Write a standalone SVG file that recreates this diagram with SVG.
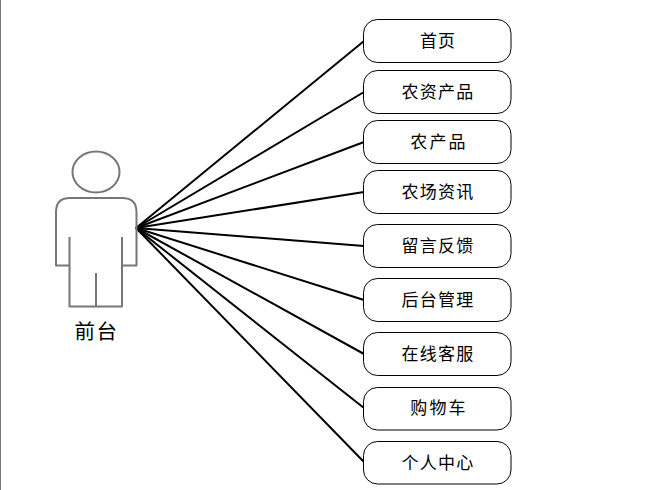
<svg xmlns="http://www.w3.org/2000/svg" width="668" height="490" viewBox="0 0 668 490">
<style>
.n{fill:#fff;stroke:#000;stroke-width:1}
.t{font-family:"Noto Sans CJK SC","Liberation Sans",sans-serif;font-size:17px;fill:#000;text-anchor:middle;letter-spacing:1.300px}
.w{letter-spacing:2.200px}
.c line{stroke:#000;stroke-width:2}
.a{fill:none;stroke:#777;stroke-width:2;stroke-linejoin:round}
</style>
<rect width="668" height="490" fill="#fff"/>
<line x1="0.5" y1="0" x2="0.5" y2="490" stroke="#777" stroke-width="1"/>
<g id="connectors" class="c">
<line x1="136" y1="228" x2="364" y2="41"/>
<line x1="136" y1="228" x2="364" y2="92"/>
<line x1="136" y1="228" x2="364" y2="142"/>
<line x1="136" y1="228" x2="364" y2="192"/>
<line x1="136" y1="228" x2="364" y2="246"/>
<line x1="136" y1="228" x2="364" y2="300"/>
<line x1="136" y1="228" x2="364" y2="354"/>
<line x1="136" y1="228" x2="364" y2="408"/>
<line x1="136" y1="228" x2="364" y2="462"/>
</g>
<g id="actor">
<ellipse class="a" cx="96" cy="172" rx="23.500" ry="20.500"/>
<path class="a" d="M69.500 237V265.500H56V212Q56 198 70 198H122Q136.500 198 136.500 212V265.500H122V237M69.500 265.500V306.500H122V265.500M96 273V306.500"/>
<text x="96.500" y="338.500" font-family="'Noto Sans CJK SC',sans-serif" font-size="20.500" text-anchor="middle" letter-spacing="1.500">前台</text>
</g>
<g id="n1"><rect class="n" x="363.500" y="19.500" width="147.500" height="43" rx="14"/><text class="t" x="438" y="46.500" style="letter-spacing:1px">首页</text></g>
<g id="n2"><rect class="n" x="363.500" y="70.500" width="147.500" height="43" rx="14"/><text class="t" x="438" y="98">农资产品</text></g>
<g id="n3"><rect class="n" x="363.500" y="120.500" width="147.500" height="43" rx="14"/><text class="t w" x="439" y="148">农产品</text></g>
<g id="n4"><rect class="n" x="363.500" y="170.500" width="147.500" height="43" rx="14"/><text class="t" x="438" y="198">农场资讯</text></g>
<g id="n5"><rect class="n" x="363.500" y="224.500" width="147.500" height="43" rx="14"/><text class="t" x="438" y="252">留言反馈</text></g>
<g id="n6"><rect class="n" x="363.500" y="278.500" width="147.500" height="43" rx="14"/><text class="t" x="438" y="306">后台管理</text></g>
<g id="n7"><rect class="n" x="363.500" y="332.500" width="147.500" height="43" rx="14"/><text class="t" x="438" y="360">在线客服</text></g>
<g id="n8"><rect class="n" x="363.500" y="387.500" width="147.500" height="42.500" rx="14"/><text class="t w" x="439" y="414">购物车</text></g>
<g id="n9"><rect class="n" x="363.500" y="441.500" width="147.500" height="42.500" rx="14"/><text class="t" x="438" y="469">个人中心</text></g>
</svg>
